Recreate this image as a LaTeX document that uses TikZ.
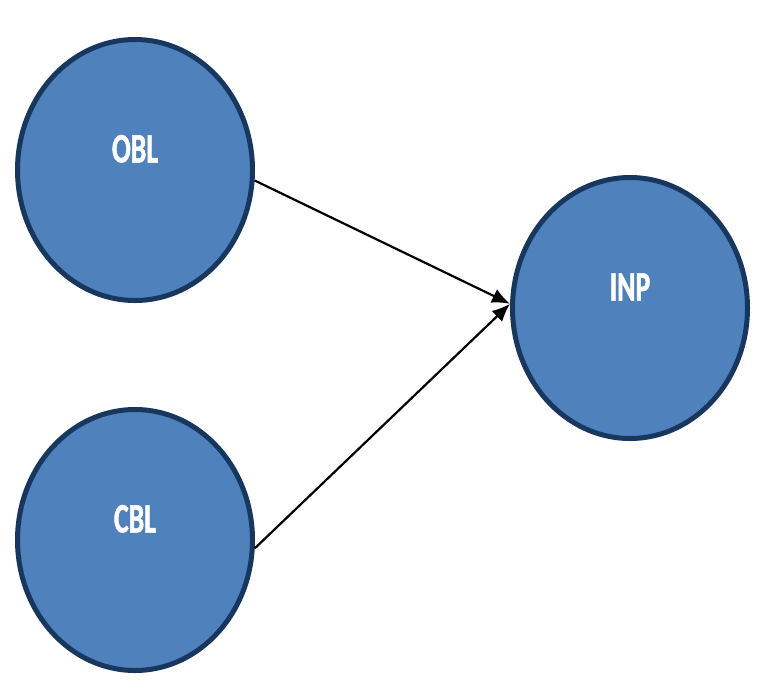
\documentclass[tikz,border=0pt]{standalone}
\usepackage{fontspec}
\newfontfamily\nodefont[FakeStretch=0.66,FakeBold=1.2]{Carlito}
\usetikzlibrary{positioning,shapes.geometric,arrows.meta}
\definecolor{nodeblue}{RGB}{79,129,189}
\definecolor{nodeedge}{RGB}{23,55,94}

\begin{document}
\begin{tikzpicture}[x=1pt,y=-1pt]
\tikzstyle{main}=[ellipse, minimum width = 235pt, minimum height = 261pt, line width = 5pt, draw = nodeedge, fill = nodeblue, text = white, font = \nodefont\bfseries\fontsize{42}{42}\selectfont, text height = 27pt, text depth = 42pt, inner sep = 0pt]
\tikzstyle{connect}=[-{Latex[length=18pt,width=15pt]}, line width = 2.2pt]
\useasboundingbox (0,0) rectangle (768,697);
  \node[main] (obl) at (135,170) {OBL};
  \node[main] (cbl) [below=104pt of obl] {CBL};
  \node[main] (inp) at (630,308) {INP};
  \draw[connect] (obl.-5) -- (inp.178);
  \draw[connect] (cbl.-4) -- (inp.178);
\end{tikzpicture}
\end{document}
